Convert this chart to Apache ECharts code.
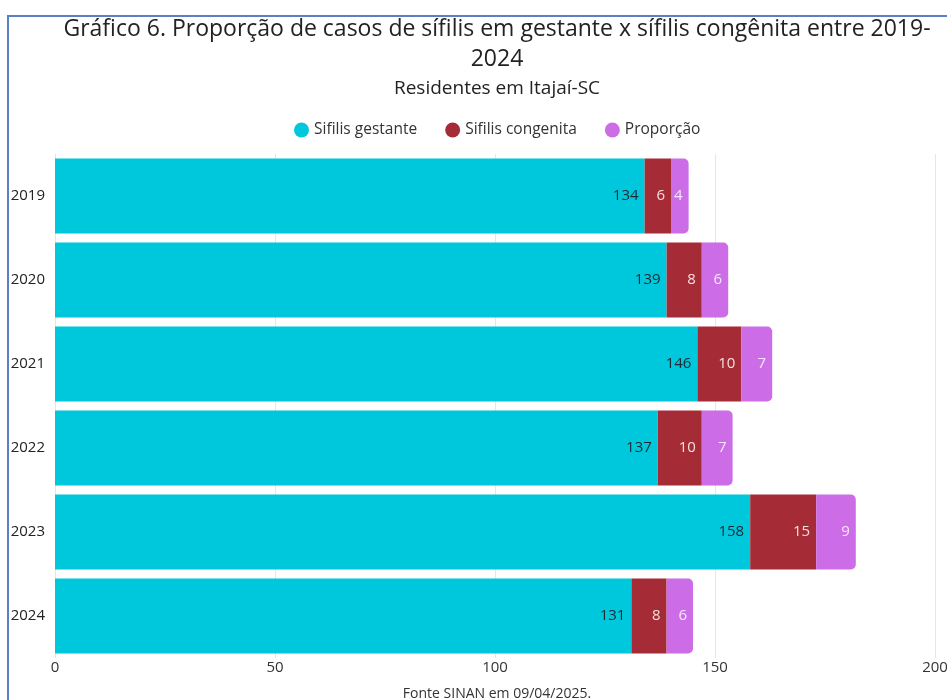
<!DOCTYPE html>
<html><head><meta charset="utf-8">
<script src="https://cdn.jsdelivr.net/npm/echarts@6/dist/echarts.min.js"></script>
<style>html,body{margin:0;padding:0;background:#fff}#c{width:947px;height:700px}</style>
</head><body><div id="c"></div>
<script>
const categories = ['2019','2020','2021','2022','2023','2024'];
const gestante = [134,139,146,137,158,131];
const congenita = [6,8,10,10,15,8];
const proporcao = [4,6,7,7,9,6];
const xTicks = [0,50,100,150,200];

const chart = echarts.init(document.getElementById('c'));
const F = 'Open Sans';
const CX = 497;
const lbl = (color) => ({show:true, position:'insideRight', color:color, fontFamily:F, fontSize:15, distance:6});
chart.setOption({
  animation:false,
  textStyle:{fontFamily:F},
  graphic:[
    {type:'rect', shape:{x:7,y:15,width:940,height:2}, style:{fill:'#5A7FC4'}, silent:true},
    {type:'rect', shape:{x:7,y:15,width:2,height:685}, style:{fill:'#5A7FC4'}, silent:true},
    {type:'text', x:CX, y:14, style:{text:'Gráfico 6. Proporção de casos de sífilis em gestante x sífilis congênita entre 2019-\n2024', align:'center', fontFamily:F, fontSize:23, lineHeight:30, fill:'#222'}},
    {type:'text', x:CX, y:79, style:{text:'Residentes em Itajaí-SC', align:'center', fontFamily:F, fontSize:19, fill:'#222'}},
    {type:'text', x:CX, y:687, style:{text:'Fonte SINAN em 09/04/2025.', align:'center', fontFamily:F, fontSize:14, fill:'#333'}}],
  legend:{top:117, left:289, icon:'circle', itemWidth:15, itemHeight:15, itemGap:28,
    textStyle:{fontFamily:F, fontSize:15.5, color:'#333'}},
  grid:{left:55, right:12, top:154, bottom:42, containLabel:false, outerBoundsMode:'none'},
  xAxis:{type:'value', min:0, max:200, interval:50, axisLine:{show:false}, axisTick:{show:false},
    splitLine:{lineStyle:{color:'#e6e6e6'}},
    axisLabel:{fontFamily:F, fontSize:15, color:'#333', margin:2}},
  yAxis:{type:'category', data:categories, inverse:true, axisLine:{show:false}, axisTick:{show:false},
    axisLabel:{fontFamily:F, fontSize:15, color:'#222', margin:10}},
  series:[
    {name:'Sifilis gestante', type:'bar', stack:'a', data:gestante, barWidth:75, itemStyle:{color:'#00C8DC'}, label:lbl('#1b2a33')},
    {name:'Sifilis congenita', type:'bar', stack:'a', data:congenita, itemStyle:{color:'#A52C37'}, label:lbl('#f4dede')},
    {name:'Proporção', type:'bar', stack:'a', data:proporcao, itemStyle:{color:'#CC6CE7', borderRadius:[0,5,5,0]}, label:lbl('#f6e8fb')}
  ]
});
</script></body></html>
